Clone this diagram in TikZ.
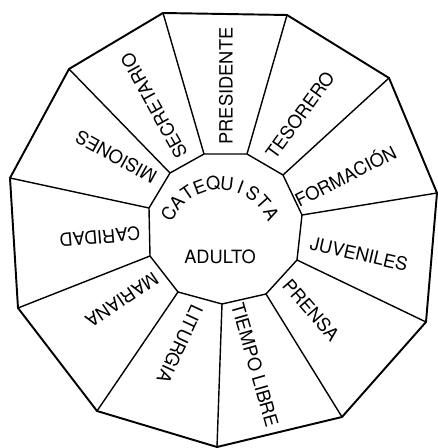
\documentclass[tikz,border=0pt]{standalone}
\usepackage{fontspec}
\setmainfont{TeX Gyre Heros}

\begin{document}
\begin{tikzpicture}[x=0.1cm, y=0.1cm,
    ring/.style={line width=5.5pt, line join=round},
    spoke/.style={line width=4pt},
    lbl/.style={inner sep=0pt, font=\fontsize{52}{60}\selectfont}]
    \useasboundingbox (0,0) rectangle (438,448);

    % Outer corners
    \coordinate (o1) at (163,435);
    \coordinate (o2) at (287,433);
    \coordinate (o3) at (389,370);
    \coordinate (o4) at (437,255);
    \coordinate (o5) at (426,126);
    \coordinate (o6) at (342,31);
    \coordinate (o7) at (217,1);
    \coordinate (o8) at (97,37);
    \coordinate (o9) at (18,140);
    \coordinate (o10) at (10,270);
    \coordinate (o11) at (69,379);

    % Inner corners
    \coordinate (i1) at (204,294);
    \coordinate (i2) at (247,294);
    \coordinate (i3) at (283,273);
    \coordinate (i4) at (302,233);
    \coordinate (i5) at (297,188);
    \coordinate (i6) at (266,154);
    \coordinate (i7) at (222,144);
    \coordinate (i8) at (178,156);
    \coordinate (i9) at (150,192);
    \coordinate (i10) at (149,240);
    \coordinate (i11) at (170,275);

    % Rings
    \draw[ring] (o1) -- (o2) -- (o3) -- (o4) -- (o5) -- (o6) -- (o7)
        -- (o8) -- (o9) -- (o10) -- (o11) -- cycle;
    \draw[spoke, line join=round] (i1) -- (i2) -- (i3) -- (i4) -- (i5) -- (i6)
        -- (i7) -- (i8) -- (i9) -- (i10) -- (i11) -- cycle;

    % Spokes
    \foreach \k in {1,...,11}
        \draw[spoke] (i\k) -- (o\k);

    % Sector labels
    \node[lbl, rotate=90] (pres) at (226,362) {PRESIDENTE};
    \node[lbl, rotate=54] (teso) at (300,333) {TESORERO};
    \node[lbl, rotate=27] (form) at (345,273) {FORMACIÓN};
    \node[lbl, rotate=-13] (juve) at (359,194) {JUVENILES};
    \node[lbl, rotate=-49] (prensa) at (311,138) {PRENSA};
    \node[lbl, rotate=-74] (tiempo) at (255,83) {TIEMPO LIBRE};
    \node[lbl, rotate=-115] (litur) at (180,104) {LITURGIA};
    \node[lbl, rotate=-146] (maria) at (122,148) {MARIANA};
    \node[lbl, rotate=185] (cari) at (100,211) {CARIDAD};
    \node[lbl, rotate=151] (misi) at (116,291) {MISIONES};
    \node[lbl, rotate=119] (secre) at (154,342) {SECRETARIO};

    % Centre: letters set round the top of the inner ring
    \foreach \ch [count=\n] in {C,A,T,E,Q,U,I,S,T,A} {
        \pgfmathsetmacro\ang{165.8-13.8*\n}
        \node[lbl, rotate=\ang-90] (cat\n) at ({220+58*cos(\ang)},{207+58*sin(\ang)}) {\ch};
    }
    \node[lbl] (adulto) at (220,191) {ADULTO};
\end{tikzpicture}
\end{document}
